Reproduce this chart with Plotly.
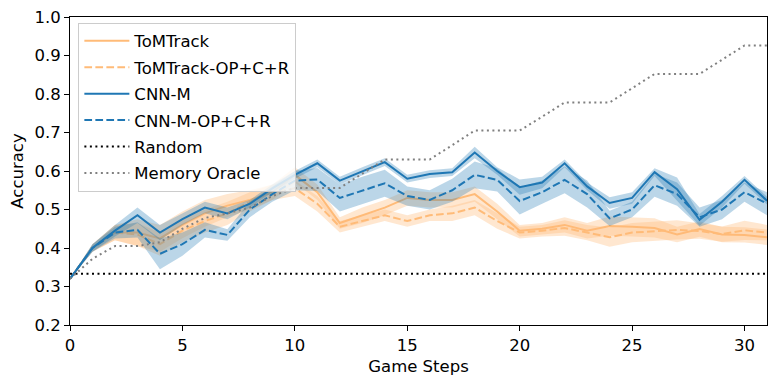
import plotly.graph_objects as go

# ------------------------------------------------------------
# DATA
# ------------------------------------------------------------
steps = list(range(32))

tomtrack = [0.32, 0.40, 0.44, 0.44, 0.425, 0.46, 0.49, 0.51, 0.525, 0.545,
            0.59, 0.545, 0.465, 0.485, 0.505, 0.53, 0.525, 0.525, 0.54, 0.495,
            0.445, 0.45, 0.46, 0.445, 0.457, 0.455, 0.452, 0.435, 0.449, 0.435,
            0.434, 0.428]
tomtrack_err = [0.0, 0.01, 0.02, 0.035, 0.035, 0.035, 0.035, 0.03, 0.025, 0.02,
                0.02, 0.02, 0.015, 0.02, 0.02, 0.02, 0.02, 0.02, 0.02, 0.02,
                0.015, 0.015, 0.02, 0.02, 0.025, 0.025, 0.025, 0.02, 0.02, 0.02,
                0.02, 0.02]

tomtrack_op = [0.32, 0.40, 0.44, 0.435, 0.41, 0.445, 0.47, 0.49, 0.52, 0.545,
               0.555, 0.515, 0.455, 0.47, 0.485, 0.47, 0.485, 0.49, 0.505, 0.47,
               0.44, 0.445, 0.452, 0.44, 0.428, 0.44, 0.444, 0.447, 0.444, 0.436,
               0.446, 0.44]
tomtrack_op_err = [0.0, 0.01, 0.02, 0.03, 0.03, 0.03, 0.03, 0.03, 0.025, 0.02,
                   0.02, 0.02, 0.015, 0.015, 0.015, 0.015, 0.015, 0.02, 0.02, 0.02,
                   0.015, 0.015, 0.02, 0.02, 0.025, 0.025, 0.025, 0.025, 0.02, 0.02,
                   0.025, 0.02]

cnn_m = [0.32, 0.40, 0.445, 0.485, 0.44, 0.475, 0.505, 0.49, 0.515, 0.555,
         0.59, 0.62, 0.575, 0.60, 0.623, 0.58, 0.592, 0.597, 0.648, 0.60,
         0.558, 0.57, 0.62, 0.56, 0.517, 0.53, 0.597, 0.553, 0.473, 0.52,
         0.577, 0.523]
cnn_m_err = [0.0, 0.01, 0.015, 0.02, 0.02, 0.015, 0.015, 0.015, 0.01, 0.01,
             0.01, 0.01, 0.01, 0.01, 0.01, 0.01, 0.01, 0.01, 0.015, 0.01,
             0.02, 0.015, 0.01, 0.01, 0.015, 0.015, 0.01, 0.03, 0.015, 0.015,
             0.01, 0.01]

cnn_m_op = [0.32, 0.40, 0.44, 0.447, 0.385, 0.41, 0.447, 0.434, 0.50, 0.54,
            0.575, 0.578, 0.53, 0.55, 0.568, 0.535, 0.525, 0.55, 0.59, 0.577,
            0.522, 0.545, 0.577, 0.54, 0.477, 0.50, 0.563, 0.54, 0.48, 0.50,
            0.545, 0.515]
cnn_m_op_err = [0.0, 0.01, 0.015, 0.02, 0.04, 0.03, 0.02, 0.015, 0.02, 0.02,
                0.025, 0.03, 0.035, 0.035, 0.035, 0.025, 0.025, 0.03, 0.035, 0.03,
                0.035, 0.03, 0.035, 0.035, 0.02, 0.02, 0.03, 0.03, 0.025, 0.025,
                0.025, 0.03]

random_acc = [1 / 3] * len(steps)

memory_oracle = [0.32, 0.372, 0.405, 0.405, 0.415, 0.45, 0.478, 0.49, 0.505, 0.535,
                 0.556, 0.556, 0.556, 0.593, 0.63, 0.63, 0.63, 0.667, 0.705, 0.705,
                 0.705, 0.741, 0.778, 0.778, 0.778, 0.815, 0.852, 0.852, 0.852, 0.889,
                 0.926, 0.926]

x_ticks = [0, 5, 10, 15, 20, 25, 30]
y_ticks = [0.2, 0.3, 0.4, 0.5, 0.6, 0.7, 0.8, 0.9, 1.0]

ORANGE = "#ffbb78"
ORANGE_FILL = "rgba(255,187,120,0.35)"
BLUE = "#1f77b4"
BLUE_FILL = "rgba(31,119,180,0.3)"

DASH = "7.7px,3.3px"
DOT = "2px,3.5px"
FONT_SIZE = 16.5

fig = go.Figure()


def add_series(name, y, err, color, fill, dash):
    upper = [v + e for v, e in zip(y, err)]
    lower = [v - e for v, e in zip(y, err)]
    fig.add_trace(go.Scatter(x=steps, y=upper, mode="lines", line=dict(width=0),
                             showlegend=False, hoverinfo="skip", legendgroup=name))
    fig.add_trace(go.Scatter(x=steps, y=lower, mode="lines", line=dict(width=0),
                             fill="tonexty", fillcolor=fill, showlegend=False,
                             hoverinfo="skip", legendgroup=name))
    fig.add_trace(go.Scatter(x=steps, y=y, mode="lines", name=name, legendgroup=name,
                             line=dict(color=color, width=2, dash=dash)))


add_series("ToMTrack", tomtrack, tomtrack_err, ORANGE, ORANGE_FILL, "solid")
add_series("ToMTrack-OP+C+R", tomtrack_op, tomtrack_op_err, ORANGE, ORANGE_FILL, DASH)
add_series("CNN-M", cnn_m, cnn_m_err, BLUE, BLUE_FILL, "solid")
add_series("CNN-M-OP+C+R", cnn_m_op, cnn_m_op_err, BLUE, BLUE_FILL, DASH)

fig.add_trace(go.Scatter(x=steps, y=random_acc, mode="lines", name="Random",
                         legendgroup="Random",
                         line=dict(color="black", width=2, dash=DOT)))
fig.add_trace(go.Scatter(x=steps, y=memory_oracle, mode="lines", name="Memory Oracle",
                         legendgroup="Memory Oracle",
                         line=dict(color="gray", width=2, dash=DOT)))

axis_style = dict(
    showline=True, linecolor="black", linewidth=1.1, mirror=True,
    ticks="outside", ticklen=5, tickwidth=1.1, tickcolor="black",
    showgrid=False, zeroline=False, ticklabeloverflow="allow",
    tickfont=dict(size=FONT_SIZE, color="black"),
)

# the page body adds an 8px offset, so margins are shifted to compensate
fig.update_layout(
    width=777, height=386,
    margin=dict(l=62, r=18, t=9, b=69, autoexpand=False),
    paper_bgcolor="white", plot_bgcolor="white",
    font=dict(family="DejaVu Sans", size=FONT_SIZE, color="black"),
    xaxis=dict(range=[0, 31], tickvals=x_ticks,
               title=dict(text="Game Steps", font=dict(size=FONT_SIZE), standoff=6),
               **axis_style),
    yaxis=dict(range=[0.2, 1.0], tickvals=y_ticks,
               ticktext=[f"{v:.1f}" for v in y_ticks],
               title=dict(text="Accuracy", font=dict(size=FONT_SIZE), standoff=6),
               **axis_style),
    legend=dict(x=0.012, y=0.982, xanchor="left", yanchor="top",
                bgcolor="rgba(255,255,255,0.8)", bordercolor="#cccccc",
                borderwidth=1, font=dict(size=FONT_SIZE), tracegroupgap=2,
                itemwidth=45),
    showlegend=True,
)

fig.write_html("out.html")
